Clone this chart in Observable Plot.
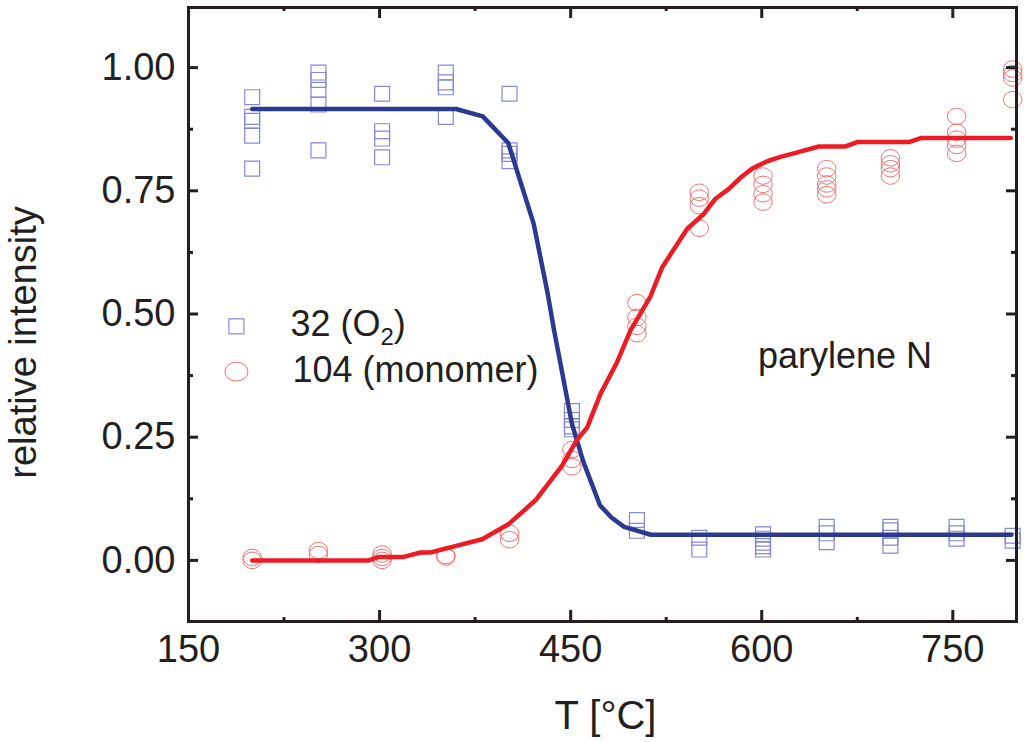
<!DOCTYPE html>
<html lang="en">
<head>
<meta charset="UTF-8">
<title>relative intensity vs T</title>
<style>
  body { margin: 0; background: white; }
  #chart svg { display: block; }
</style>
</head>
<body>
<div id="chart"></div>
<script src="https://cdn.jsdelivr.net/npm/d3@7"></script>
<script src="https://cdn.jsdelivr.net/npm/@observablehq/plot@0.6"></script>
<script>
// sample temperatures (°C) of the measured columns
const sampleT = [200, 252, 302, 352, 402, 451, 502, 551, 601, 651, 701, 753, 797];

// mass 32 (O2), one list per column
const o2Values = [
  [0.94, 0.90, 0.892, 0.862, 0.795],
  [0.99, 0.975, 0.955, 0.925, 0.832],
  [0.947, 0.871, 0.856, 0.818],
  [0.99, 0.97, 0.96, 0.90],
  [0.947, 0.832, 0.825, 0.81],
  [0.303, 0.285, 0.272, 0.266],
  [0.082, 0.06],
  [0.046, 0.022],
  [0.053, 0.044, 0.036, 0.029, 0.022],
  [0.068, 0.055, 0.037],
  [0.068, 0.061, 0.046, 0.030],
  [0.068, 0.055, 0.044],
  [0.05, 0.04]
];

// mass 104 (monomer)
const monomerValues = [
  [0.006, 0.0],
  [0.02, 0.012],
  [0.013, 0.006, 0.0],
  [0.01, 0.007],
  [0.055, 0.042],
  [0.225, 0.205, 0.19],
  [0.523, 0.493, 0.475, 0.46],
  [0.747, 0.735, 0.72, 0.674],
  [0.78, 0.763, 0.744, 0.727],
  [0.795, 0.78, 0.764, 0.754, 0.742],
  [0.817, 0.805, 0.795, 0.78],
  [0.901, 0.869, 0.855, 0.842, 0.826],
  [0.997, 0.988, 0.979, 0.935]
];

// fitted curves
const o2FitT = [200, 360, 381, 401, 421, 432, 437, 446, 451, 460, 473, 482, 492, 513, 796];
const o2FitV = [0.916, 0.916, 0.901, 0.847, 0.683, 0.541, 0.467, 0.345, 0.277, 0.2, 0.112, 0.087, 0.068, 0.052, 0.052];

const monoFitT = [200, 291.5, 299.3, 318.9, 332.1, 339.9, 360.9, 380.5, 401.5, 422.4, 443.4, 454.6, 463, 473.4, 486, 497,
  512.7, 521.9, 541.5, 554.5, 563.7, 574.2, 583.4, 592.5, 604.3, 614.7, 625.2, 644.8, 665.8, 675, 715.5, 724.7, 795.5];
const monoFitV = [0, 0, 0.007, 0.007, 0.016, 0.016, 0.030, 0.043, 0.074, 0.122, 0.193, 0.243, 0.27, 0.338, 0.40, 0.467,
  0.536, 0.595, 0.673, 0.703, 0.734, 0.754, 0.777, 0.795, 0.81, 0.819, 0.826, 0.84, 0.84, 0.849, 0.849, 0.857, 0.857];

// axes
const xMajor = [150, 300, 450, 600, 750];
const xMinor = [225, 375, 525, 675];
const yMajor = [0, 0.25, 0.5, 0.75, 1];
const yMinor = [0.125, 0.375, 0.625, 0.875];

const legendItems = ["32 (O", "104 (monomer)"];
const note = "parylene N";

const font = "'Liberation Sans', Arial, Helvetica, sans-serif";
const ink = "#231f20";
const squareColor = "#8589d4";
const circleColor = "#f26d6d";
const blueLine = "#2b3990";
const redLine = "#ed1c24";

const o2Table = sampleT.flatMap((t, i) => o2Values[i].map(v => ({t, v})));
const monoTable = sampleT.flatMap((t, i) => monomerValues[i].map(v => ({t, v})));
const o2Fit = o2FitT.map((t, i) => ({t, v: o2FitV[i]}));
const monoFit = monoFitT.map((t, i) => ({t, v: monoFitV[i]}));

// open ellipse, a bit wider than tall
const ellipse = {
  draw(ctx, size) {
    const r = Math.sqrt(size / Math.PI), rx = r * 1.12, ry = r, k = 0.5523;
    ctx.moveTo(rx, 0);
    ctx.bezierCurveTo(rx, ry * k, rx * k, ry, 0, ry);
    ctx.bezierCurveTo(-rx * k, ry, -rx, ry * k, -rx, 0);
    ctx.bezierCurveTo(-rx, -ry * k, -rx * k, -ry, 0, -ry);
    ctx.bezierCurveTo(rx * k, -ry, rx, -ry * k, rx, 0);
    ctx.closePath();
  }
};

const W = 1024, H = 742;
const mL = 188, mR = 8, mT = 7, mB = 121;
const innerW = W - mL - mR, innerH = H - mT - mB;

const chart = Plot.plot({
  width: W,
  height: H,
  marginLeft: mL,
  marginRight: mR,
  marginTop: mT,
  marginBottom: mB,
  style: {fontFamily: font, background: "white", color: ink},
  x: {domain: [150, 800]},
  y: {domain: [-0.124, 1.122]},
  marks: [
    Plot.dot(o2Table, {x: "t", y: "v", symbol: "square", r: 8.4, stroke: squareColor, strokeWidth: 1.2, fill: "none"}),
    Plot.dot(monoTable, {x: "t", y: "v", symbol: ellipse, r: 8.2, stroke: circleColor, strokeWidth: 1, fill: "none"}),
    Plot.line(o2Fit, {x: "t", y: "v", stroke: blueLine, strokeWidth: 4.5}),
    Plot.line(monoFit, {x: "t", y: "v", stroke: redLine, strokeWidth: 4.5}),

    // ticks pointing inward on all four sides
    Plot.tickX(xMajor.slice(1), {x: d => d, stroke: ink, strokeWidth: 3, insetTop: innerH - 11}),
    Plot.tickX(xMajor.slice(1), {x: d => d, stroke: ink, strokeWidth: 3, insetBottom: innerH - 11}),
    Plot.tickX(xMinor, {x: d => d, stroke: ink, strokeWidth: 3, insetTop: innerH - 4}),
    Plot.tickX(xMinor, {x: d => d, stroke: ink, strokeWidth: 3, insetBottom: innerH - 4}),
    Plot.tickY(yMajor, {y: d => d, stroke: ink, strokeWidth: 3, insetRight: innerW - 10}),
    Plot.tickY(yMajor, {y: d => d, stroke: ink, strokeWidth: 3, insetLeft: innerW - 10}),
    Plot.tickY(yMinor, {y: d => d, stroke: ink, strokeWidth: 3, insetRight: innerW - 5}),
    Plot.tickY(yMinor, {y: d => d, stroke: ink, strokeWidth: 3, insetLeft: innerW - 5}),

    Plot.axisX(xMajor, {anchor: "bottom", tickSize: 0, tickPadding: 14, fontSize: 38, fill: ink, label: null}),
    Plot.axisY(yMajor, {anchor: "left", tickSize: 0, tickPadding: 13, fontSize: 38, fill: ink,
      tickFormat: d3.format(".2f"), label: null}),

    Plot.text(["T [°C]"], {frameAnchor: "bottom", lineAnchor: "bottom", dy: 107, dx: 3,
      fontSize: 40, fill: ink, text: d => d}),
    Plot.text(["relative intensity"], {frameAnchor: "left", textAnchor: "middle", lineAnchor: "middle",
      rotate: -90, dx: -165, dy: 28, fontSize: 38, fill: ink, text: d => d}),
    Plot.text([note], {x: 597, y: 0.391, textAnchor: "start", lineAnchor: "bottom",
      fontSize: 36, fill: ink, text: d => d}),

    Plot.frame({stroke: ink, strokeWidth: 3})
  ]
});

// legend, placed through the chart's own scales
const sx = chart.scale("x"), sy = chart.scale("y");
const legendT = 188, legendV = [0.474, 0.382];
const lg = d3.select(chart).append("g")
  .attr("font-family", font).attr("font-size", 36).attr("fill", ink).attr("text-anchor", "start");
const lx = sx.apply(legendT);
const ly0 = sy.apply(legendV[0]), ly1 = sy.apply(legendV[1]);
lg.append("rect").attr("x", lx - 7.5).attr("y", ly0 - 7.5).attr("width", 15).attr("height", 15)
  .attr("fill", "none").attr("stroke", squareColor).attr("stroke-width", 1.2);
const t0 = lg.append("text").attr("x", lx + 54).attr("y", ly0 + 10);
t0.append("tspan").text(legendItems[0]);
t0.append("tspan").attr("font-size", 24).attr("dy", 9).text("2");
t0.append("tspan").attr("dy", -9).text(")");
lg.append("ellipse").attr("cx", lx).attr("cy", ly1).attr("rx", 11.5).attr("ry", 9.5)
  .attr("fill", "none").attr("stroke", circleColor).attr("stroke-width", 1);
lg.append("text").attr("x", lx + 56).attr("y", ly1 + 10).text(legendItems[1]);

document.querySelector("#chart").append(chart);
</script>
</body>
</html>
